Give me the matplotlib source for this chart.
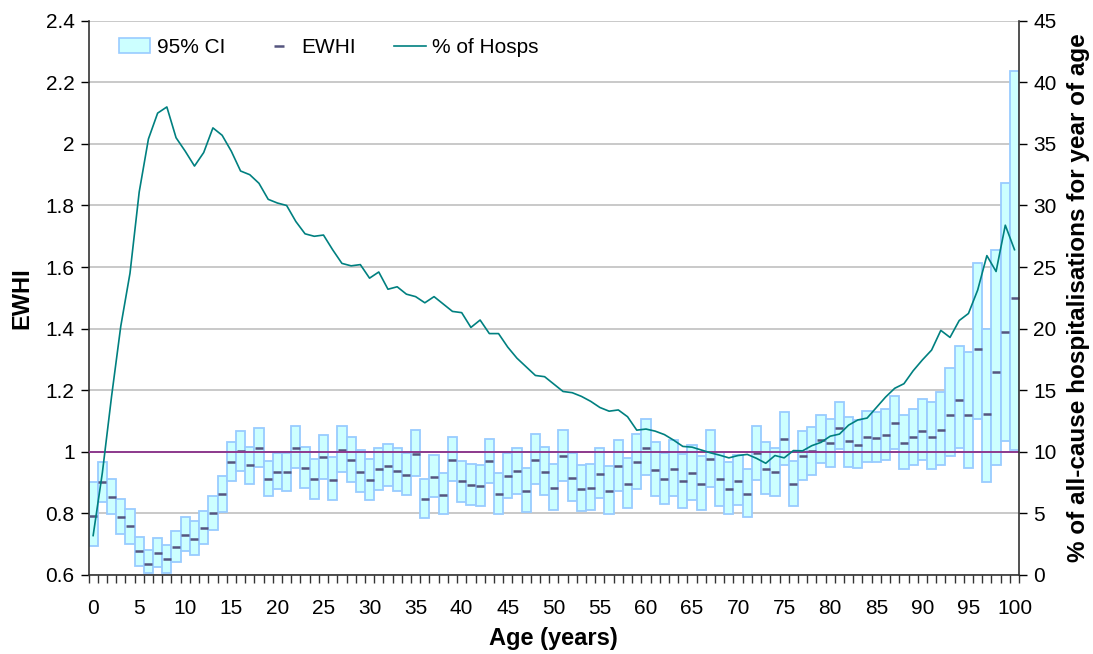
import numpy as np
import matplotlib
matplotlib.use("Agg")
import matplotlib.pyplot as plt
from matplotlib.patches import Patch
from matplotlib.lines import Line2D

plt.rcParams['font.family'] = ['Liberation Sans', 'DejaVu Sans']

ages = list(range(0, 101))

ci_low = [0.695, 0.836, 0.797, 0.733, 0.701, 0.629, 0.605, 0.625, 0.605, 0.641,
          0.678, 0.665, 0.701, 0.746, 0.806, 0.905, 0.938, 0.896, 0.952, 0.855,
          0.879, 0.872, 0.947, 0.881, 0.846, 0.913, 0.843, 0.934, 0.902, 0.868,
          0.842, 0.877, 0.888, 0.872, 0.859, 0.922, 0.784, 0.853, 0.798, 0.905,
          0.837, 0.826, 0.823, 0.898, 0.797, 0.850, 0.864, 0.803, 0.897, 0.861,
          0.811, 0.906, 0.839, 0.807, 0.810, 0.849, 0.797, 0.872, 0.818, 0.880,
          0.925, 0.858, 0.831, 0.858, 0.819, 0.843, 0.811, 0.885, 0.825, 0.797,
          0.826, 0.788, 0.908, 0.862, 0.856, 0.958, 0.825, 0.909, 0.925, 0.964,
          0.952, 1.010, 0.950, 0.946, 0.968, 0.967, 0.973, 1.008, 0.943, 0.957,
          0.973, 0.943, 0.957, 0.985, 1.014, 0.946, 1.105, 0.902, 0.956, 1.034,
          1.006]

ci_high = [0.903, 0.966, 0.911, 0.848, 0.814, 0.725, 0.682, 0.719, 0.699, 0.744,
           0.787, 0.774, 0.809, 0.856, 0.922, 1.031, 1.068, 1.016, 1.078, 0.971,
           0.995, 0.995, 1.083, 1.015, 0.978, 1.056, 0.982, 1.085, 1.048, 1.006,
           0.978, 1.013, 1.026, 1.011, 0.995, 1.070, 0.913, 0.989, 0.930, 1.048,
           0.971, 0.962, 0.958, 1.043, 0.932, 0.995, 1.013, 0.949, 1.058, 1.017,
           0.959, 1.072, 0.995, 0.957, 0.961, 1.013, 0.955, 1.038, 0.981, 1.058,
           1.108, 1.032, 0.995, 1.037, 0.994, 1.021, 0.985, 1.072, 0.998, 0.966,
           0.989, 0.943, 1.083, 1.031, 1.014, 1.128, 0.970, 1.067, 1.082, 1.120,
           1.106, 1.163, 1.114, 1.103, 1.131, 1.129, 1.140, 1.182, 1.120, 1.140,
           1.173, 1.161, 1.193, 1.272, 1.345, 1.325, 1.613, 1.399, 1.654, 1.874,
           2.236]

ewhi = [0.792, 0.903, 0.853, 0.789, 0.758, 0.677, 0.637, 0.670, 0.653, 0.692,
        0.731, 0.718, 0.754, 0.800, 0.864, 0.968, 1.003, 0.956, 1.014, 0.912,
        0.936, 0.933, 1.014, 0.947, 0.912, 0.984, 0.910, 1.006, 0.972, 0.936,
        0.908, 0.943, 0.955, 0.939, 0.926, 0.994, 0.848, 0.919, 0.861, 0.974,
        0.905, 0.893, 0.888, 0.970, 0.863, 0.920, 0.938, 0.874, 0.974, 0.936,
        0.881, 0.987, 0.916, 0.880, 0.882, 0.929, 0.874, 0.954, 0.897, 0.966,
        1.014, 0.942, 0.912, 0.945, 0.905, 0.930, 0.896, 0.977, 0.911, 0.880,
        0.906, 0.864, 0.995, 0.944, 0.934, 1.041, 0.895, 0.986, 1.002, 1.040,
        1.028, 1.079, 1.035, 1.023, 1.048, 1.046, 1.056, 1.093, 1.028, 1.048,
        1.068, 1.047, 1.071, 1.120, 1.169, 1.121, 1.334, 1.123, 1.258, 1.390,
        1.500]

pct_hosps = [3.2, 8.3, 14.5, 20.2, 24.5, 31.1, 35.4, 37.5, 38.0, 35.5,
             34.4, 33.2, 34.3, 36.3, 35.7, 34.4, 32.8, 32.5, 31.8, 30.5,
             30.2, 30.0, 28.7, 27.7, 27.5, 27.6, 26.4, 25.3, 25.1, 25.2,
             24.1, 24.6, 23.2, 23.4, 22.8, 22.6, 22.1, 22.6, 22.0, 21.4,
             21.3, 20.1, 20.7, 19.6, 19.6, 18.5, 17.6, 16.9, 16.2, 16.1,
             15.5, 14.9, 14.8, 14.5, 14.1, 13.6, 13.3, 13.4, 12.85, 11.76,
             11.85, 11.68, 11.4, 10.95, 10.44, 10.38, 10.15, 9.92, 9.73, 9.51,
             9.70, 9.79, 9.47, 9.07, 9.70, 9.51, 10.1, 10.08, 10.5, 10.77,
             11.27, 11.44, 12.17, 12.59, 12.74, 13.59, 14.44, 15.16, 15.53, 16.58,
             17.46, 18.26, 19.86, 19.29, 20.66, 21.23, 23.13, 25.93, 24.64, 28.40,
             26.41]

reference_level = 1.0

left_ticks = [0.6, 0.8, 1.0, 1.2, 1.4, 1.6, 1.8, 2.0, 2.2, 2.4]
right_ticks = [0, 5, 10, 15, 20, 25, 30, 35, 40, 45]
x_label_ticks = list(range(0, 101, 5))

fig = plt.figure(figsize=(10.93, 6.54), dpi=100)
ax = fig.add_axes([0.081, 0.1208, 0.8514, 0.8475])

x = np.array(ages)
low = np.array(ci_low)
high = np.array(ci_high)

ax.bar(x, high - low, bottom=low, width=1.0, facecolor='#CCFFFF',
       edgecolor='#99CCFF', linewidth=1.3, zorder=2)
ax.scatter(x, ewhi, marker='_', s=34, color='#55557F', linewidths=1.8, zorder=3)
ax.axhline(reference_level, color='#8E3A8E', linewidth=1.4, zorder=4)

ax.set_xlim(-0.5, 100.5)
ax.set_ylim(0.6, 2.4)
ax.set_yticks(left_ticks)
ax.set_yticklabels([f"{v:g}" for v in left_ticks])
ax.set_xticks(x_label_ticks)
ax.set_xticklabels([str(v) for v in x_label_ticks])
ax.set_xticks(np.arange(-0.5, 101, 1), minor=True)
ax.tick_params(axis='x', which='major', length=0, pad=17, labelsize=15)
ax.tick_params(axis='x', which='minor', length=6, width=1, color='#333333')
ax.tick_params(axis='y', which='major', length=6, width=1, labelsize=15, pad=4)
ax.grid(axis='y', color='#C0C0C0', linewidth=1.2, zorder=0)
ax.set_axisbelow(True)
for side in ['top', 'right']:
    ax.spines[side].set_visible(False)
for side in ['left', 'bottom']:
    ax.spines[side].set_color('#333333')
    ax.spines[side].set_linewidth(1.2)

ax.set_ylabel('EWHI', fontsize=17, fontweight='bold', labelpad=9)
ax.set_xlabel('Age (years)', fontsize=17, fontweight='bold', labelpad=7)

ax2 = ax.twinx()
ax2.plot(x, pct_hosps, color='#008080', linewidth=1.2, zorder=5)
ax2.set_ylim(0, 45)
ax2.set_yticks(right_ticks)
ax2.set_yticklabels([str(v) for v in right_ticks])
ax2.tick_params(axis='y', which='major', length=6, width=1, labelsize=15, pad=4)
for side in ['top', 'left', 'bottom']:
    ax2.spines[side].set_visible(False)
ax2.spines['right'].set_color('#333333')
ax2.spines['right'].set_linewidth(1.2)
ax2.set_ylabel('% of all-cause hospitalisations for year of age', fontsize=17.5,
               fontweight='bold', labelpad=8)

handles = [
    Patch(facecolor='#CCFFFF', edgecolor='#99CCFF', linewidth=1.2),
    Line2D([], [], marker='_', linestyle='None', color='#55557F',
           markersize=7, markeredgewidth=1.8),
    Line2D([], [], color='#008080', linewidth=1.2),
]
labels = ['95% CI', 'EWHI', '% of Hosps']
ax2.legend(handles, labels, loc='center left', bbox_to_anchor=(0.033, 0.952),
           ncol=3, frameon=False, fontsize=15, handlelength=1.5,
           handletextpad=0.3, columnspacing=1.85, borderpad=0, borderaxespad=0)

fig.savefig('out.png', dpi=100)
